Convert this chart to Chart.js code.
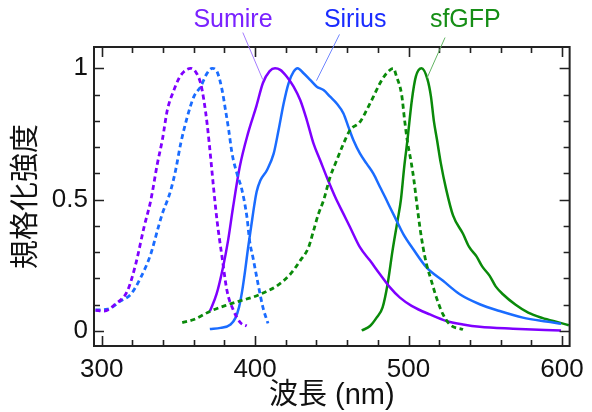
<!DOCTYPE html>
<html><head><meta charset="utf-8">
<script src="https://cdn.jsdelivr.net/npm/chart.js@4"></script>
<style>html,body{margin:0;padding:0;background:#fff}#wrap{width:592px;height:412px}</style>
</head><body><div id="wrap"><canvas id="c"></canvas></div>
<script>
const xTicks = [300, 400, 500, 600];
const yTicks = [0, 0.5, 1];

const sumireExX = [296, 301.6, 309.2, 316.8, 322.2, 327.6, 332, 336.3, 339.5, 342.8, 347.1, 350.4, 353.6, 358, 361.2, 364.5, 366.6, 368.7, 371, 373.1, 375.2, 378.5, 381.7, 386.1, 390.4, 394.5];
const sumireExY = [0.079, 0.076, 0.104, 0.153, 0.255, 0.395, 0.497, 0.637, 0.726, 0.841, 0.917, 0.962, 0.987, 1.0, 0.987, 0.943, 0.879, 0.79, 0.662, 0.535, 0.42, 0.28, 0.153, 0.076, 0.032, 0.019];

const siriusExX = [296, 303.8, 312.5, 319, 325.5, 332, 336.3, 339.5, 342.8, 345, 348.2, 351.5, 355.8, 360.1, 364.5, 368.7, 372, 375.2, 378.5, 380.7, 382.8, 385, 388.2, 391.5, 394.7, 396.5, 398.6, 401.9, 405.1, 408.4];
const siriusExY = [0.08, 0.083, 0.115, 0.14, 0.204, 0.293, 0.382, 0.446, 0.497, 0.535, 0.612, 0.713, 0.815, 0.892, 0.93, 0.981, 1.0, 0.987, 0.917, 0.841, 0.765, 0.675, 0.599, 0.535, 0.433, 0.34, 0.28, 0.18, 0.09, 0.029];

const sumireEmX = [370.5, 374.9, 379.1, 382.4, 385.6, 390, 395.4, 400.8, 405.1, 409.5, 413, 416.4, 420.7, 425.1, 429.4, 433.7, 438.1, 442.4, 446.7, 452.2, 457.6, 461.9, 468.4, 474.9, 481.4, 487.9, 494.4, 502, 513.9, 524.7, 535.5, 546.4, 568, 599.4];
const sumireEmY = [0.075, 0.141, 0.243, 0.345, 0.47, 0.625, 0.753, 0.855, 0.944, 0.989, 1.0, 0.994, 0.968, 0.93, 0.879, 0.803, 0.713, 0.65, 0.586, 0.51, 0.446, 0.395, 0.318, 0.268, 0.216, 0.166, 0.127, 0.096, 0.063, 0.038, 0.025, 0.016, 0.009, 0.002];

const siriusEmX = [370.5, 377.5, 384, 387.2, 389.5, 391.5, 393.5, 395.5, 397.5, 399.5, 401, 403.4, 407.7, 412.1, 415.3, 418.6, 421.8, 425.1, 427.7, 431.6, 435.9, 440.2, 444.6, 448.9, 453.2, 457.6, 460.8, 464.1, 468.4, 472.7, 477.1, 481.4, 484.7, 487.9, 492.2, 496.6, 503, 511.7, 522.5, 533.4, 546.4, 559.4, 574.5, 589.7, 599.4];
const siriusEmY = [0.008, 0.012, 0.025, 0.05, 0.09, 0.15, 0.23, 0.32, 0.4, 0.48, 0.53, 0.573, 0.612, 0.675, 0.765, 0.866, 0.943, 0.987, 1.0, 0.981, 0.956, 0.93, 0.917, 0.892, 0.866, 0.828, 0.777, 0.726, 0.675, 0.637, 0.599, 0.548, 0.51, 0.471, 0.42, 0.369, 0.312, 0.242, 0.191, 0.14, 0.102, 0.076, 0.051, 0.036, 0.028];

const sfgfpExX = [352.5, 360.1, 371, 381.7, 390.4, 399.1, 405.6, 414.2, 422.9, 429.4, 434.8, 438.1, 441.3, 444.6, 448.9, 453.2, 457.6, 461.9, 468.4, 472.7, 477.1, 481.4, 485.7, 490.1, 492.2, 495.5, 497.5, 499.3, 501.5, 503.5, 505.3, 507.4, 509.5, 511.7, 514.9, 518.2, 522.5, 526.9, 535.5];
const sfgfpExY = [0.032, 0.044, 0.076, 0.099, 0.115, 0.13, 0.146, 0.172, 0.216, 0.268, 0.318, 0.382, 0.446, 0.497, 0.586, 0.65, 0.713, 0.765, 0.796, 0.841, 0.892, 0.943, 0.981, 1.0, 0.968, 0.9, 0.8, 0.72, 0.65, 0.575, 0.49, 0.395, 0.318, 0.255, 0.191, 0.127, 0.063, 0.025, 0.006];

const sfgfpEmX = [469.5, 474.9, 479.2, 483.1, 486.4, 489.6, 492.9, 495, 497.2, 499.3, 502.2, 504.8, 508.5, 512.4, 514.6, 516.5, 518.5, 521, 524.5, 529, 535.5, 539.5, 544.2, 548.1, 552.9, 556.8, 561.5, 569.8, 578, 587.1, 598.4, 604.5];
const sfgfpEmY = [0.002, 0.019, 0.051, 0.09, 0.18, 0.307, 0.422, 0.498, 0.625, 0.727, 0.88, 0.969, 1.0, 0.957, 0.893, 0.8, 0.73, 0.64, 0.54, 0.44, 0.37, 0.32, 0.285, 0.245, 0.21, 0.17, 0.14, 0.1, 0.07, 0.05, 0.032, 0.022];

const pts = (xs, ys) => xs.map((x, i) => ({x: x, y: ys[i]}));

const PURPLE = '#7f00ff', BLUE = '#1a6cff', GREEN = '#0a8a0a';
const LATIN = "'Liberation Sans', Arial, 'Noto Sans CJK JP', sans-serif";

function ds(label, xs, ys, color, dashed) {
  return {
    label: label, data: pts(xs, ys), borderColor: color, backgroundColor: color,
    borderWidth: dashed ? 2.8 : 2.5, pointRadius: 0, cubicInterpolationMode: 'monotone', fill: false,
    borderDash: dashed ? [5, 3.5] : [], borderCapStyle: 'butt'
  };
}

const annotations = [
  {text: 'Sumire', color: '#7a22ff', lineColor: '#a57cff', tx: 385.6, ty: 1.156, from: [392, 1.136], to: [405, 0.957]},
  {text: 'Sirius', color: '#1a2cff', lineColor: '#6f86ff', tx: 465.2, ty: 1.156, from: [455, 1.129], to: [440, 0.953]},
  {text: 'sfGFP', color: '#168e16', lineColor: '#62b462', tx: 537, ty: 1.156, from: [523.8, 1.117], to: [512, 0.962]}
];

const framePlugin = {
  id: 'frame',
  afterDatasetsDraw(chart) {
    const {ctx, chartArea: a, scales: {x, y}} = chart;
    ctx.save();
    ctx.strokeStyle = '#222';
    ctx.lineWidth = 2;
    ctx.strokeRect(a.left, a.top, a.right - a.left, a.bottom - a.top);
    ctx.lineWidth = 1.6;
    ctx.beginPath();
    for (let v = 300; v <= 600; v += 20) {
      const px = Math.round(x.getPixelForValue(v)) + 0.5;
      const len = xTicks.includes(v) ? 10 : 6;
      ctx.moveTo(px, a.bottom); ctx.lineTo(px, a.bottom - len);
      ctx.moveTo(px, a.top); ctx.lineTo(px, a.top + len);
    }
    for (let i = 0; i <= 10; i++) {
      const v = i / 10;
      const py = Math.round(y.getPixelForValue(v)) + 0.5;
      const len = (i % 5 === 0) ? 10 : 6;
      ctx.moveTo(a.left, py); ctx.lineTo(a.left + len, py);
      ctx.moveTo(a.right, py); ctx.lineTo(a.right - len, py);
    }
    ctx.stroke();

    ctx.font = "25px " + LATIN;
    ctx.textAlign = 'center';
    ctx.textBaseline = 'alphabetic';
    annotations.forEach(an => {
      ctx.fillStyle = an.color;
      ctx.fillText(an.text, x.getPixelForValue(an.tx), y.getPixelForValue(an.ty));
      ctx.strokeStyle = an.lineColor;
      ctx.lineWidth = 1;
      ctx.beginPath();
      ctx.moveTo(x.getPixelForValue(an.from[0]), y.getPixelForValue(an.from[1]));
      ctx.lineTo(x.getPixelForValue(an.to[0]), y.getPixelForValue(an.to[1]));
      ctx.stroke();
    });
    ctx.restore();
  }
};

new Chart(document.getElementById('c'), {
  type: 'line',
  data: {
    datasets: [
      ds('Sumire ex', sumireExX, sumireExY, PURPLE, true),
      ds('Sirius ex', siriusExX, siriusExY, BLUE, true),
      ds('sfGFP ex', sfgfpExX, sfgfpExY, GREEN, true),
      ds('Sumire em', sumireEmX, sumireEmY, PURPLE, false),
      ds('Sirius em', siriusEmX, siriusEmY, BLUE, false),
      ds('sfGFP em', sfgfpEmX, sfgfpEmY, GREEN, false)
    ]
  },
  options: {
    responsive: true, maintainAspectRatio: false, animation: false,
    layout: {padding: {top: 47, right: 22, left: 0, bottom: 0}},
    plugins: {legend: {display: false}, tooltip: {enabled: false}},
    scales: {
      x: {
        type: 'linear', min: 295, max: 605,
        afterBuildTicks: s => { s.ticks = xTicks.map(v => ({value: v})); },
        afterFit: s => { s.height = 66; },
        grid: {display: false, drawTicks: false},
        border: {display: false},
        ticks: {font: {family: LATIN, size: 26}, color: '#111', padding: 8, maxRotation: 0, autoSkip: false, callback: v => String(v)},
        title: {display: true, text: '波長 (nm)', color: '#111', font: {family: LATIN, size: 29, lineHeight: 1.1}, padding: {top: 0, bottom: 0}}
      },
      y: {
        type: 'linear', min: -0.057, max: 1.081,
        afterBuildTicks: s => { s.ticks = yTicks.map(v => ({value: v})); },
        afterFit: s => { s.width = 94; },
        grid: {display: false, drawTicks: false},
        border: {display: false},
        ticks: {font: {family: LATIN, size: 26}, color: '#111', padding: 6, autoSkip: false, callback: v => String(v)},
        title: {display: true, text: '規格化強度', color: '#111', font: {family: LATIN, size: 29, lineHeight: 1.1}, padding: {top: 11, bottom: 0}}
      }
    }
  },
  plugins: [framePlugin]
});
</script>
</body></html>
